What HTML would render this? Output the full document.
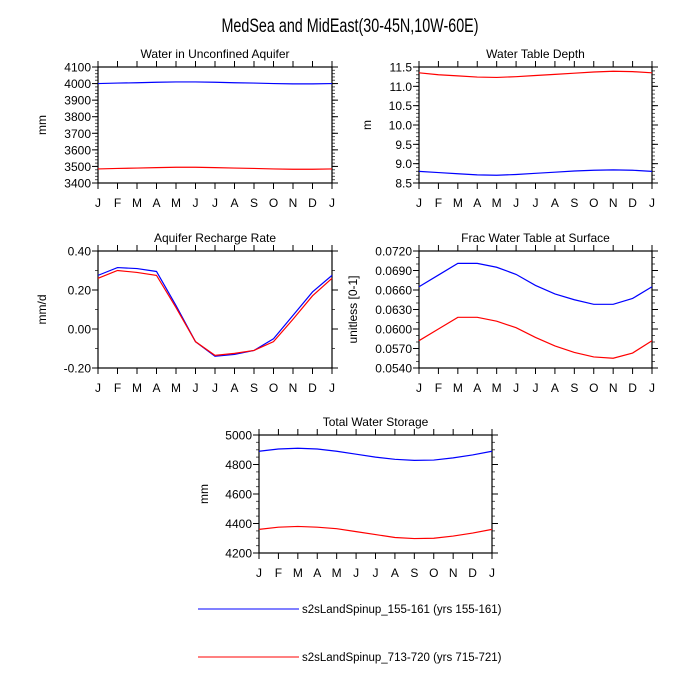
<!DOCTYPE html>
<html><head><meta charset="utf-8"><style>
html,body{margin:0;padding:0;background:#fff}
svg{display:block;font-family:"Liberation Sans",sans-serif}
</style></head><body>
<svg id="c" width="700" height="700" viewBox="0 0 700 700" xmlns="http://www.w3.org/2000/svg">
<text x="350" y="32" font-size="19" text-anchor="middle" textLength="257" lengthAdjust="spacingAndGlyphs">MedSea and MidEast(30-45N,10W-60E)</text>
<g id="legend">
<g><line x1="198" y1="609" x2="299" y2="609" stroke="#00f" stroke-width="1"/><text x="302" y="613" font-size="11.5">s2sLandSpinup_155-161 (yrs 155-161)</text></g>
<g><line x1="198" y1="657" x2="299" y2="657" stroke="#f00" stroke-width="1"/><text x="302" y="661" font-size="11.5">s2sLandSpinup_713-720 (yrs 715-721)</text></g>
</g>
</svg>
<script>
const months = ["J","F","M","A","M","J","J","A","S","O","N","D","J"];
const aquiferBlue = [4000,4003,4005,4008,4010,4010,4008,4005,4003,4000,3998,3998,4000];
const aquiferRed = [3485,3488,3490,3493,3495,3495,3493,3490,3488,3485,3483,3483,3485];
const depthBlue = [8.80,8.77,8.74,8.71,8.70,8.72,8.75,8.78,8.81,8.83,8.84,8.83,8.80];
const depthRed = [11.35,11.30,11.27,11.24,11.23,11.25,11.28,11.31,11.34,11.37,11.39,11.38,11.35];
const rechargeBlue = [0.275,0.315,0.31,0.295,0.12,-0.065,-0.14,-0.13,-0.11,-0.05,0.07,0.19,0.275];
const rechargeRed = [0.26,0.30,0.29,0.275,0.11,-0.065,-0.135,-0.125,-0.11,-0.065,0.05,0.17,0.26];
const fracBlue = [0.0665,0.0683,0.0701,0.0701,0.0695,0.0684,0.0667,0.0654,0.0645,0.0638,0.0638,0.0647,0.0665];
const fracRed = [0.0582,0.0600,0.0618,0.0618,0.0612,0.0602,0.0587,0.0574,0.0564,0.0557,0.0555,0.0563,0.0582];
const storageBlue = [4890,4905,4910,4905,4890,4870,4850,4835,4828,4830,4845,4865,4890];
const storageRed = [4360,4375,4380,4375,4365,4345,4325,4305,4298,4300,4315,4335,4360];
const aquiferTicks = [3400,3500,3600,3700,3800,3900,4000,4100];
const depthTicks = [8.5,9.0,9.5,10.0,10.5,11.0,11.5];
const rechargeTicks = [-0.2,0,0.2,0.4];
const fracTicks = [0.054,0.057,0.060,0.063,0.066,0.069,0.072];
const storageTicks = [4200,4400,4600,4800,5000];

const NS="http://www.w3.org/2000/svg";
const svg=document.getElementById('c');
function mk(tag,attrs,parent){const e=document.createElementNS(NS,tag);for(const k in attrs)e.setAttribute(k,attrs[k]);parent.appendChild(e);return e;}

function panel(o){
  const g=mk('g',{},svg);
  
  
  const {x0,x1,y0,y1,min,max}=o;
  const sx=i=>x0+(x1-x0)*i/(months.length-1);
  const sy=v=>y1-(y1-y0)*(v-min)/(max-min);
  const t=mk('text',{x:(x0+x1)/2,y:y0-9,'font-size':12,'text-anchor':'middle'},g);
  t.textContent=o.title;
  
  
  const yl=mk('text',{x:0,y:0,'font-size':12,'text-anchor':'middle',transform:`translate(${o.ylx},${(y0+y1)/2}) rotate(-90)`},g);
  yl.textContent=o.ylabel;
  
  
  const step=(o.ticks[1]-o.ticks[0])/o.minor;
  for(let v=min;v<=max+1e-9;v+=step){
    const y=sy(v);
    mk('line',{x1:x0-3,x2:x0,y1:y,y2:y,stroke:'#555','stroke-width':1},g);
    mk('line',{x1:x1,x2:x1+3,y1:y,y2:y,stroke:'#555','stroke-width':1},g);
  }
  o.ticks.forEach(v=>{
    const y=sy(v);
    mk('line',{x1:x0-6,x2:x0,y1:y,y2:y,stroke:'#000','stroke-width':1},g);
    mk('line',{x1:x1,x2:x1+6,y1:y,y2:y,stroke:'#000','stroke-width':1},g);
    const tl=mk('text',{x:x0-7,y:y+4.5,'font-size':12,'text-anchor':'end'},g);
    tl.textContent=o.fmt(v);
    
    
  });
  months.forEach((m,i)=>{
    const x=sx(i);
    mk('line',{x1:x,x2:x,y1:y0-6,y2:y0,stroke:'#000','stroke-width':1},g);
    mk('line',{x1:x,x2:x,y1:y1,y2:y1+6,stroke:'#000','stroke-width':1},g);
    const ml=mk('text',{x:x,y:y1+24,'font-size':12,'text-anchor':'middle'},g);
    ml.textContent=m;
    
    
  });
  mk('rect',{x:x0,y:y0,width:x1-x0,height:y1-y0,fill:'none',stroke:'#000','stroke-width':1.2},g);
  [[o.blue,'#00f','blue'],[o.red,'#f00','red']].forEach(([d,c,n])=>{
    const p=mk('polyline',{points:d.map((v,i)=>sx(i)+','+sy(v)).join(' '),fill:'none',stroke:c,'stroke-width':1.2},g);
    
    
  });
}
panel({name:'aquifer',title:'Water in Unconfined Aquifer',ylabel:'mm',ylx:46,x0:98,x1:332,y0:67,y1:183,min:3400,max:4100,ticks:aquiferTicks,minor:5,fmt:v=>String(v),blue:aquiferBlue,red:aquiferRed});
panel({name:'depth',title:'Water Table Depth',ylabel:'m',ylx:371,x0:419,x1:652,y0:67,y1:183,min:8.5,max:11.5,ticks:depthTicks,minor:5,fmt:v=>v.toFixed(1),blue:depthBlue,red:depthRed});
panel({name:'recharge',title:'Aquifer Recharge Rate',ylabel:'mm/d',ylx:46,x0:98,x1:332,y0:251,y1:368,min:-0.2,max:0.4,ticks:rechargeTicks,minor:2,fmt:v=>v.toFixed(2),blue:rechargeBlue,red:rechargeRed});
panel({name:'frac',title:'Frac Water Table at Surface',ylabel:'unitless [0-1]',ylx:357,x0:419,x1:652,y0:251,y1:368,min:0.054,max:0.072,ticks:fracTicks,minor:3,fmt:v=>v.toFixed(4),blue:fracBlue,red:fracRed});
panel({name:'storage',title:'Total Water Storage',ylabel:'mm',ylx:208,x0:259,x1:492,y0:435,y1:553,min:4200,max:5000,ticks:storageTicks,minor:4,fmt:v=>String(v),blue:storageBlue,red:storageRed});
</script>
</body></html>
